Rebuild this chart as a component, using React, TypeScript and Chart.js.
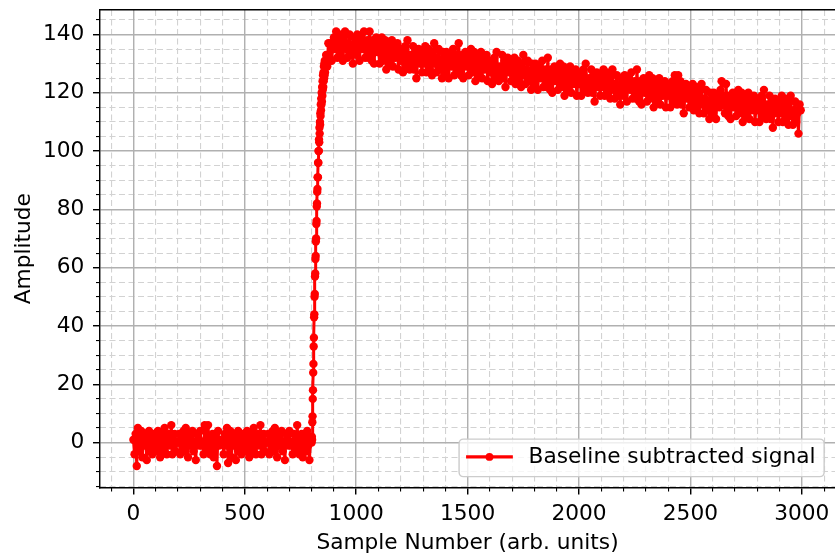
import React, { useEffect, useRef } from 'react';
import { Chart, registerables } from 'chart.js';

Chart.register(...registerables);

// ---------------- data ----------------
const seriesLabel = 'Baseline subtracted signal';
const xTitle = 'Sample Number (arb. units)';
const yTitle = 'Amplitude';

// pre-step baseline: samples 0..800, every 5th sample
const baselineStartSample = 0;
const baselineStepSamples = 5;
const baselineAmplitude = [
  1, -4, 3, -8, 5, -3, 0, 4, -5, 1, -1, 3, -6, 0, 4, -3, 1, -4, 3, 0,
  -3, 1, 4, -1, -5, 3, 0, -3, 5, 1, -4, 0, 3, -1, 6, -4, 1, 3, -3, 0,
  0, 3, -4, 1, -1, 4, -3, 5, 0, -5, 3, -1, 1, 4, -3, 0, -6, 3, 1, -1,
  4, -1, 0, -4, 6, 1, -3, 6, -1, -4, 1, 3, -5, 0, 3, -8, 4, -1, 0, 1,
  1, -4, 3, -1, 5, -7, 0, 4, -5, 1, -1, 3, -6, 0, 4, -3, 1, -4, 3, 0,
  -3, 1, 4, -1, -5, 3, 0, -3, 5, 1, -4, 0, 3, -1, 6, -4, 1, 3, -3, 0,
  0, 3, -4, 1, -1, 4, -3, 5, 0, -5, 3, -1, 1, 4, -3, 0, -6, 3, 1, -1,
  4, -1, 0, -4, 3, 1, -3, 6, -1, -4, 1, 3, -5, 0, 3, -3, 4, -1, -6, 1,
  0,
];

// rising edge: samples 801..860, every sample
const riseStartSample = 801;
const riseStepSamples = 1;
const riseAmplitude = [
  2, 1, 7, 9, 15, 18, 24, 27, 33, 36,
  43, 44, 50, 51, 57, 58, 63, 64, 69, 70,
  75, 76, 81, 82, 86, 87, 91, 91, 96, 96,
  100, 100, 104, 103, 108, 106, 110, 109, 113, 112,
  116, 114, 118, 116, 120, 117, 122, 119, 124, 121,
  126, 122, 127, 124, 129, 125, 130, 126, 131, 127,
];

// plateau / slow decay: samples 865..2995, every 5th sample
const plateauStartSample = 865;
const plateauStepSamples = 5;
const plateauAmplitude = [
  133, 129, 137, 132, 137, 131, 136,
  139, 135, 141, 132, 136, 140, 133, 137, 131, 139, 141, 135, 132, 137, 140, 133, 136, 130, 139, 137,
  133, 140, 136, 131, 139, 137, 135, 141, 132, 136, 138, 132, 141, 134, 131, 138, 130, 136, 139, 134,
  135, 130, 137, 139, 131, 133, 138, 128, 134, 137, 130, 134, 138, 129, 136, 132, 133, 137, 128, 134,
  131, 135, 127, 133, 136, 129, 138, 132, 128, 133, 130, 136, 128, 134, 125, 131, 135, 130, 132, 127,
  134, 130, 136, 127, 131, 135, 128, 132, 126, 134, 137, 130, 127, 132, 135, 128, 131, 125, 134, 132,
  127, 134, 130, 125, 133, 131, 129, 135, 126, 130, 133, 127, 137, 129, 126, 133, 125, 131, 134, 129,
  131, 126, 133, 135, 127, 129, 134, 124, 130, 133, 126, 130, 134, 125, 132, 128, 129, 133, 124, 130,
  127, 131, 123, 129, 132, 125, 134, 128, 124, 129, 127, 133, 125, 131, 122, 128, 132, 127, 129, 124,
  130, 126, 132, 123, 127, 131, 124, 128, 122, 130, 133, 126, 123, 128, 131, 124, 127, 121, 130, 128,
  123, 130, 126, 121, 129, 127, 125, 131, 122, 126, 128, 122, 132, 124, 121, 128, 120, 126, 129, 124,
  126, 121, 128, 130, 122, 124, 129, 119, 125, 128, 121, 125, 129, 120, 127, 123, 124, 128, 119, 125,
  123, 127, 119, 125, 128, 121, 130, 124, 120, 125, 122, 128, 120, 126, 117, 123, 127, 122, 124, 119,
  126, 122, 128, 119, 123, 127, 120, 124, 118, 126, 128, 121, 118, 123, 126, 119, 122, 116, 125, 123,
  119, 126, 122, 117, 125, 123, 121, 127, 118, 122, 124, 118, 128, 120, 117, 124, 116, 122, 125, 120,
  122, 117, 124, 126, 118, 120, 125, 115, 121, 124, 117, 121, 125, 116, 123, 119, 120, 124, 115, 121,
  119, 123, 115, 121, 124, 117, 126, 120, 116, 126, 118, 124, 116, 122, 113, 119, 123, 118, 120, 115,
  121, 117, 123, 114, 118, 122, 115, 119, 113, 121, 123, 116, 113, 118, 121, 114, 117, 111, 120, 118,
  113, 120, 116, 111, 119, 117, 115, 121, 124, 116, 119, 113, 123, 115, 112, 119, 111, 117, 120, 115,
  117, 112, 119, 121, 113, 115, 120, 110, 116, 119, 112, 116, 120, 111, 118, 114, 115, 119, 110, 116,
  114, 118, 110, 116, 119, 112, 121, 115, 111, 116, 113, 119, 111, 117, 108, 114, 118, 113, 115, 110,
  117, 113, 119, 110, 114, 118, 111, 115, 109, 117, 119, 112, 109, 114, 117, 110, 113, 106, 116, 114,
];

// axes
const xLimits = [-149.95, 3148.95];
const yLimits = [-15.4, 148.4];
const xMajorTicks = [0, 500, 1000, 1500, 2000, 2500, 3000];
const yMajorTicks = [0, 20, 40, 60, 80, 100, 120, 140];
const xMinorStep = 100;
const yMinorStep = 5;

// ---------------- styling ----------------
const FONT = "'DejaVu Sans', 'Liberation Sans', sans-serif";
const FS = 21.7;
const RED = '#ff0000';
const SPINE_W = 1.44;
const LINE_W = 3.0;
const MARKER_R = 4.2;

const buildSegment = (start: number, step: number, values: number[]) =>
  values.map((y, i) => ({ x: start + i * step, y }));

const points = [
  ...buildSegment(baselineStartSample, baselineStepSamples, baselineAmplitude),
  ...buildSegment(riseStartSample, riseStepSamples, riseAmplitude),
  ...buildSegment(plateauStartSample, plateauStepSamples, plateauAmplitude),
];

const stepTicks = (lo: number, hi: number, step: number) => {
  const out: number[] = [];
  for (let k = Math.ceil(lo / step); k * step <= hi; k++) out.push(k * step);
  return out;
};

const xMinorTicks = stepTicks(xLimits[0], xLimits[1], xMinorStep).filter((v) => !xMajorTicks.includes(v));
const yMinorTicks = stepTicks(yLimits[0], yLimits[1], yMinorStep).filter((v) => !yMajorTicks.includes(v));

const setTicks = (values: number[]) => (s: any) => {
  s.ticks = values.map((value) => ({ value }));
};

const fitBox = (w: number | null, h: number | null) => (s: any) => {
  if (w !== null) s.width = w;
  if (h !== null) s.height = h;
  s.paddingLeft = 0;
  s.paddingRight = 0;
  s.paddingTop = 0;
  s.paddingBottom = 0;
};

const mplLegend = {
  id: 'mplLegend',
  afterDatasetsDraw(chart: any) {
    const { ctx, chartArea } = chart;
    const ds = chart.data.datasets[0];
    const pad = 0.4 * FS;
    const handleLen = 2 * FS;
    const handleGap = 0.8 * FS;
    const axesPad = 0.5 * FS;
    ctx.save();
    ctx.font = `${FS}px ${FONT}`;
    const tw = ctx.measureText(ds.label).width;
    const w = 2 * pad + handleLen + handleGap + tw;
    const h = 2 * pad + 0.93 * FS;
    const right = chartArea.right - axesPad;
    const bottom = chartArea.bottom - axesPad;
    const left = right - w;
    const top = bottom - h;
    const r = 0.2 * FS;
    ctx.beginPath();
    ctx.moveTo(left + r, top);
    ctx.lineTo(right - r, top);
    ctx.arcTo(right, top, right, top + r, r);
    ctx.lineTo(right, bottom - r);
    ctx.arcTo(right, bottom, right - r, bottom, r);
    ctx.lineTo(left + r, bottom);
    ctx.arcTo(left, bottom, left, bottom - r, r);
    ctx.lineTo(left, top + r);
    ctx.arcTo(left, top, left + r, top, r);
    ctx.closePath();
    ctx.fillStyle = 'rgba(255,255,255,0.8)';
    ctx.fill();
    ctx.strokeStyle = '#cccccc';
    ctx.lineWidth = SPINE_W;
    ctx.stroke();

    const yMid = top + h / 2 - 1;
    const x0 = left + pad;
    ctx.beginPath();
    ctx.moveTo(x0, yMid);
    ctx.lineTo(x0 + handleLen, yMid);
    ctx.strokeStyle = ds.borderColor;
    ctx.lineWidth = LINE_W + 0.4;
    ctx.lineCap = 'square';
    ctx.stroke();
    ctx.beginPath();
    ctx.arc(x0 + handleLen / 2, yMid, 3.9, 0, Math.PI * 2);
    ctx.fillStyle = ds.borderColor;
    ctx.fill();

    ctx.fillStyle = '#000';
    ctx.textAlign = 'left';
    ctx.textBaseline = 'middle';
    ctx.fillText(ds.label, x0 + handleLen + handleGap, yMid);
    ctx.restore();
  },
};

export default function App() {
  const canvasRef = useRef<HTMLCanvasElement | null>(null);

  useEffect(() => {
    if (!canvasRef.current) return;
    const tickFont = { family: FONT, size: FS };
    const titleFont = { family: FONT, size: FS, lineHeight: 1 };
    const minorGrid = {
      z: -2,
      color: '#d2d2d2',
      lineWidth: 1.1,
      tickLength: 4,
      tickColor: '#000',
      tickWidth: 1.1,
    };
    const majorGrid = { z: -1, color: '#b0b0b0', lineWidth: SPINE_W, tickLength: 7, tickColor: '#000', tickWidth: SPINE_W };
    const spine = { display: true, color: '#000', width: SPINE_W };

    const chart = new Chart(canvasRef.current, {
      type: 'line',
      data: {
        datasets: [
          {
            label: seriesLabel,
            data: points,
            borderColor: RED,
            backgroundColor: RED,
            borderWidth: LINE_W,
            borderJoinStyle: 'round',
            borderCapStyle: 'round',
            pointRadius: MARKER_R,
            pointHoverRadius: MARKER_R,
            pointBorderWidth: 0,
            pointBackgroundColor: RED,
            tension: 0,
            fill: false,
            xAxisID: 'x',
            yAxisID: 'y',
          },
        ],
      },
      options: {
        responsive: false,
        animation: false,
        events: [],
        layout: { autoPadding: false, padding: { top: 10, left: 0, right: 0, bottom: 0 } },
        plugins: {
          legend: { display: false },
          tooltip: { enabled: false },
        },
        scales: {
          x: {
            type: 'linear',
            position: 'bottom',
            weight: 1,
            min: xLimits[0],
            max: xLimits[1],
            afterBuildTicks: setTicks(xMajorTicks),
            ticks: {
              autoSkip: false,
              maxRotation: 0,
              color: '#000',
              font: tickFont,
              padding: 6.5,
              callback: (v: any) => String(v),
            },
            grid: majorGrid,
            border: spine,
            title: { display: true, text: xTitle, color: '#000', font: titleFont, padding: { top: 0, bottom: 0 } },
            afterFit: fitBox(null, 66.5),
          },
          xMinor: {
            type: 'linear',
            position: 'bottom',
            weight: 0,
            min: xLimits[0],
            max: xLimits[1],
            afterBuildTicks: setTicks(xMinorTicks),
            ticks: { display: false, autoSkip: false },
            grid: minorGrid,
            border: { display: false, dash: [6, 3.5] },
            afterFit: fitBox(null, 0),
          },
          xTop: {
            type: 'linear',
            position: 'top',
            min: xLimits[0],
            max: xLimits[1],
            afterBuildTicks: setTicks(xMajorTicks),
            ticks: { display: false },
            grid: { drawOnChartArea: false, drawTicks: false },
            border: spine,
            afterFit: fitBox(null, 0),
          },
          y: {
            type: 'linear',
            position: 'left',
            weight: 1,
            min: yLimits[0],
            max: yLimits[1],
            afterBuildTicks: setTicks(yMajorTicks),
            ticks: {
              autoSkip: false,
              color: '#000',
              font: tickFont,
              padding: 8.6,
              callback: (v: any) => String(v),
            },
            grid: majorGrid,
            border: spine,
            title: { display: true, text: yTitle, color: '#000', font: titleFont, padding: { top: 13.5, bottom: 0 } },
            afterFit: fitBox(100, null),
          },
          yMinor: {
            type: 'linear',
            position: 'left',
            weight: 0,
            min: yLimits[0],
            max: yLimits[1],
            afterBuildTicks: setTicks(yMinorTicks),
            ticks: { display: false, autoSkip: false },
            grid: minorGrid,
            border: { display: false, dash: [6, 3.5] },
            afterFit: fitBox(0, null),
          },
        },
      } as any,
      plugins: [mplLegend],
    });
    return () => chart.destroy();
  }, []);

  return (
    <div style={{ position: 'absolute', left: 0, top: 0, width: 835, height: 554, background: '#fff' }}>
      <canvas ref={canvasRef} width={835} height={554} style={{ display: 'block' }} />
    </div>
  );
}
